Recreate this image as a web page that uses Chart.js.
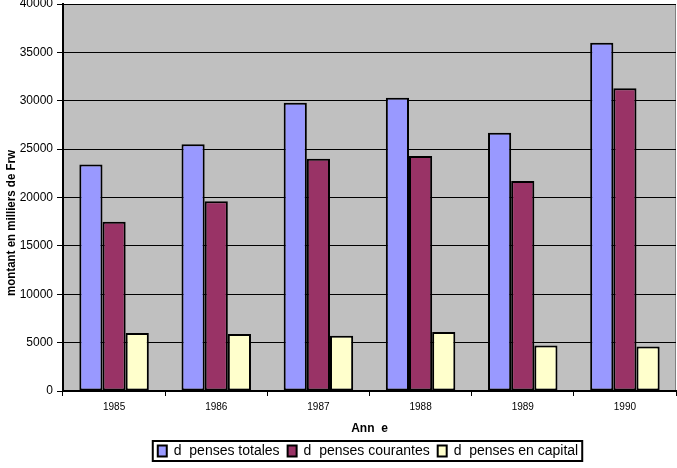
<!DOCTYPE html>
<html>
<head>
<meta charset="utf-8">
<script src="https://cdn.jsdelivr.net/npm/chart.js@4/dist/chart.umd.min.js"></script>
<style>
html,body{margin:0;padding:0;background:#fff;}
#wrap{width:677px;height:468px;position:relative;}
</style>
</head>
<body>
<div id="wrap"><canvas id="c" width="677" height="468"></canvas></div>
<script>
const years = ['1985','1986','1987','1988','1989','1990'];
const seriesNames = ['d  penses totales','d  penses courantes','d  penses en capital'];
const depensesTotales = [23400, 25500, 29800, 30300, 26700, 36000];
const depensesCourantes = [17500, 19600, 24000, 24300, 21700, 31300];
const depensesCapital = [6000, 5900, 5700, 6100, 4700, 4600];
const seriesColors = ['#9999FF', '#993366', '#FFFFCC'];
const yTitle = 'montant en milliers de Frw';
const xTitle = 'Ann  e';

const plotBg = {
  id: 'plotBg',
  afterLayout(chart) {
    const lg = chart.legend;
    if (!lg) return;
    const dx = 30;
    lg.left += dx; lg.right += dx;
    if (lg.legendHitBoxes) lg.legendHitBoxes.forEach(h => { h.left += dx; });
  },
  beforeDraw(chart) {
    const {ctx, chartArea: a} = chart;
    ctx.save();
    ctx.fillStyle = '#C0C0C0';
    ctx.fillRect(a.left, a.top, a.right - a.left, a.bottom - a.top);
    ctx.strokeStyle = '#808080';
    ctx.lineWidth = 1;
    ctx.beginPath();
    ctx.moveTo(a.left, a.top + 0.5);
    ctx.lineTo(a.right - 0.5, a.top + 0.5);
    ctx.lineTo(a.right - 0.5, a.bottom);
    ctx.stroke();
    ctx.restore();
  },
  afterDraw(chart) {
    const {ctx} = chart;
    const lg = chart.legend;
    if (lg && lg.legendHitBoxes && lg.legendHitBoxes.length) {
      const hb = lg.legendHitBoxes;
      let l = Infinity, r = -Infinity, t = Infinity, b = -Infinity;
      hb.forEach(h => { l = Math.min(l, h.left); r = Math.max(r, h.left + h.width); t = Math.min(t, h.top); b = Math.max(b, h.top + h.height); });
      ctx.save();
      ctx.strokeStyle = '#000';
      ctx.lineWidth = 2;
      ctx.strokeRect(l - 5, t - 3, (r - l) + 9, (b - t) + 6);
      ctx.restore();
    }
    ctx.save();
    ctx.translate(12, 223);
    ctx.rotate(-Math.PI / 2);
    ctx.scale(0.96, 1);
    ctx.fillStyle = '#000';
    ctx.font = 'bold 12px "Liberation Sans", Arial, sans-serif';
    ctx.textAlign = 'center';
    ctx.textBaseline = 'middle';
    ctx.fillText(yTitle, 0, 0);
    ctx.restore();
  }
};

new Chart(document.getElementById('c'), {
  type: 'bar',
  data: {
    labels: years,
    datasets: [
      {label: seriesNames[0], data: depensesTotales, backgroundColor: seriesColors[0]},
      {label: seriesNames[1], data: depensesCourantes, backgroundColor: seriesColors[1]},
      {label: seriesNames[2], data: depensesCapital, backgroundColor: seriesColors[2]}
    ].map(d => Object.assign(d, {borderColor: '#000', borderWidth: 2, borderSkipped: false, categoryPercentage: 0.68, barPercentage: 1.0}))
  },
  options: {
    responsive: false,
    animation: false,
    layout: {padding: {top: 4, right: 1, left: 0, bottom: 0}},
    plugins: {
      tooltip: {enabled: false},
      legend: {
        position: 'bottom',
        labels: {
          color: '#000',
          font: {family: '"Liberation Sans", Arial, sans-serif', size: 14},
          boxWidth: 9,
          boxHeight: 11,
          padding: 8
        }
      }
    },
    scales: {
      x: {
        grid: {offset: true, drawOnChartArea: false, drawTicks: true, tickLength: 5, color: '#000', lineWidth: 1},
        border: {color: '#000', width: 2},
        ticks: {color: '#000', font: {family: '"Liberation Sans", Arial, sans-serif', size: 10}, padding: 5},
        title: {display: true, text: xTitle, color: '#000', font: {family: '"Liberation Sans", Arial, sans-serif', size: 12, weight: 'bold'}, padding: {top: 6, bottom: 0}},
        afterFit(scale) { scale.height = 45; scale.paddingLeft = 0; scale.paddingRight = 0; }
      },
      y: {
        min: 0, max: 40000,
        ticks: {stepSize: 5000, color: '#000', font: {family: '"Liberation Sans", Arial, sans-serif', size: 12}, padding: 4,
                callback: v => String(v)},
        grid: {color: '#000', lineWidth: 1, tickLength: 6},
        border: {color: '#000', width: 2},
        afterFit(scale) { scale.width = 63; scale.paddingTop = 0; scale.paddingBottom = 0; }
      }
    }
  },
  plugins: [plotBg]
});
</script>
</body>
</html>
